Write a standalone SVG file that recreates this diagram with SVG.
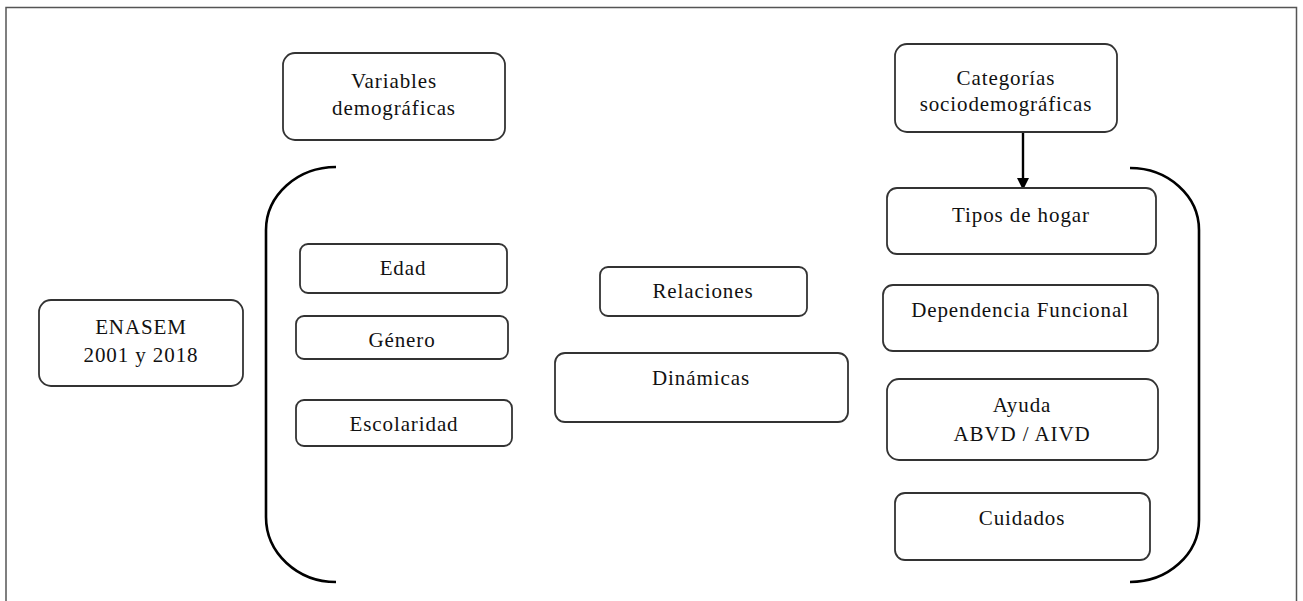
<svg xmlns="http://www.w3.org/2000/svg" width="1303" height="601" viewBox="0 0 1303 601">
<style>
  .box { fill: #fff; stroke: #333; stroke-width: 1.8; }
  .lbl { font-family: 'Liberation Serif', 'DejaVu Serif', 'Times New Roman', serif; font-size: 21px; letter-spacing: 0.9px; fill: #111; text-anchor: middle; }
  .brk { fill: none; stroke: #000; stroke-width: 2.6; }
  .frame { fill: none; stroke: #555; stroke-width: 1.5; }
</style>
<defs>
  <marker id="arr" viewBox="0 0 12 12" refX="11" refY="6" markerWidth="13" markerHeight="12" markerUnits="userSpaceOnUse" orient="auto">
    <path d="M0,0 L12,6 L0,12 z" fill="#000"/>
  </marker>
</defs>
<rect width="1303" height="601" fill="#fff"/>
<path class="frame" d="M6,620 V7.5 H1296.5 V620"/>

<g id="connectors">
  <path class="brk" d="M336,167 A70,63 0 0 0 266,230 V517 A70,65 0 0 0 336,582"/>
  <path class="brk" d="M1130,168 A69,62 0 0 1 1199,230 V520 A69,62 0 0 1 1130,582"/>
  <line x1="1023" y1="132" x2="1023" y2="189" stroke="#000" stroke-width="2.4" marker-end="url(#arr)"/>
</g>

<g id="variables">
  <rect class="box" x="283" y="53" width="222" height="87" rx="12"/>
  <text class="lbl" x="394" y="88" font-family="Liberation Serif, serif">Variables</text>
  <text class="lbl" x="394" y="115" font-family="Liberation Serif, serif">demográficas</text>
</g>
<g id="categorias">
  <rect class="box" x="895" y="44" width="222" height="88" rx="12"/>
  <text class="lbl" x="1006" y="85">Categorías</text>
  <text class="lbl" x="1006" y="111">sociodemográficas</text>
</g>
<g id="enasem">
  <rect class="box" x="39" y="300" width="204" height="86" rx="12"/>
  <text class="lbl" x="141" y="334">ENASEM</text>
  <text class="lbl" x="141" y="362">2001 y 2018</text>
</g>
<g id="edad">
  <rect class="box" x="300" y="244" width="207" height="49" rx="8"/>
  <text class="lbl" x="403" y="275">Edad</text>
</g>
<g id="genero">
  <rect class="box" x="296" y="316" width="212" height="43" rx="8"/>
  <text class="lbl" x="402" y="347">Género</text>
</g>
<g id="escolaridad">
  <rect class="box" x="296" y="400" width="216" height="46" rx="8"/>
  <text class="lbl" x="404" y="431">Escolaridad</text>
</g>
<g id="relaciones">
  <rect class="box" x="600" y="267" width="207" height="49" rx="8"/>
  <text class="lbl" x="703" y="298">Relaciones</text>
</g>
<g id="dinamicas">
  <rect class="box" x="555" y="353" width="293" height="69" rx="10"/>
  <text class="lbl" x="701" y="385">Dinámicas</text>
</g>
<g id="tipos">
  <rect class="box" x="887" y="188" width="269" height="66" rx="10"/>
  <text class="lbl" x="1021" y="222">Tipos de hogar</text>
</g>
<g id="dependencia">
  <rect class="box" x="883" y="285" width="275" height="66" rx="10"/>
  <text class="lbl" x="1020" y="317">Dependencia Funcional</text>
</g>
<g id="ayuda">
  <rect class="box" x="887" y="379" width="271" height="81" rx="12"/>
  <text class="lbl" x="1022" y="412">Ayuda</text>
  <text class="lbl" x="1022" y="441">ABVD / AIVD</text>
</g>
<g id="cuidados">
  <rect class="box" x="895" y="493" width="255" height="67" rx="10"/>
  <text class="lbl" x="1022" y="525">Cuidados</text>
</g>
</svg>
